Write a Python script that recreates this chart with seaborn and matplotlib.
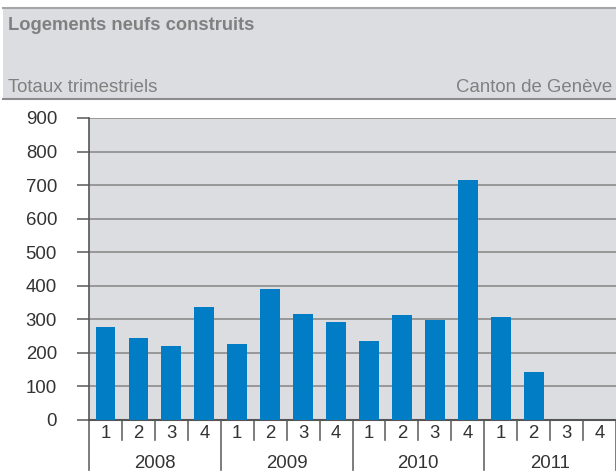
import pandas as pd
import seaborn as sns
import matplotlib.pyplot as plt
from matplotlib.patches import Rectangle
from matplotlib.lines import Line2D

# données (logements neufs construits, totaux trimestriels)
years = ["2008", "2009", "2010", "2011"]
quarters = ["1", "2", "3", "4"]
values = [277, 244, 220, 337,
          226, 390, 316, 292,
          235, 313, 298, 715,
          307, 143, None, None]

labels = [f"{y}-{q}" for y in years for q in quarters]
df = pd.DataFrame({"periode": labels, "logements": values})

plt.rcParams["font.family"] = ["Liberation Sans", "DejaVu Sans"]

fig = plt.figure(figsize=(6.16, 4.76), dpi=100)
ax = fig.add_axes([89 / 616, 56 / 476, 1 - 89 / 616, 302 / 476])

#bandeau du titre
fig.patches.append(Rectangle((0.005, 377 / 476), 0.995, 91 / 476,
                             transform=fig.transFigure, facecolor="#dcdde0",
                             edgecolor="none", zorder=0))
for yy, col in [(468 / 476, "#a6a6a6"), (377 / 476, "#8c8c8c")]:
    fig.lines.append(Line2D([0.005, 1], [yy, yy], transform=fig.transFigure,
                            color=col, lw=1.5))
fig.text(8 / 616, 1 - 25 / 476, "Logements neufs construits", fontsize=13.2,
         fontweight="bold", color="#808080", va="center", ha="left")
fig.text(8 / 616, 1 - 88 / 476, "Totaux trimestriels", fontsize=13.4,
         color="#808080", va="center", ha="left")
fig.text(612 / 616, 1 - 88 / 476, "Canton de Genève", fontsize=13.4,
         color="#808080", va="center", ha="right")

#barres
sns.barplot(data=df, x="periode", y="logements", order=labels,
            color="#007dc5", saturation=1, width=0.6, ax=ax, zorder=3)

ax.set_facecolor("#dcdde0")
ax.set_ylim(0, 900)
ax.set_xlim(-0.5, len(labels) - 0.5)
ax.set_yticks(range(0, 901, 100))
ax.yaxis.grid(True, color="#8c8c8c", lw=1.2, zorder=1)
ax.set_axisbelow(True)
ax.tick_params(axis="y", length=8.6, width=1.2, color="#666666",
               labelsize=13.4, labelcolor="#333333", pad=14.4)
ax.set_xticks([])
ax.set_xlabel("")
ax.set_ylabel("")
for s in ["top", "right"]:
    ax.spines[s].set_visible(False)
ax.spines["left"].set_color("#555555")
ax.spines["bottom"].set_color("#555555")
ax.spines["left"].set_linewidth(1.2)
ax.spines["bottom"].set_linewidth(1.5)

#axe x a deux niveaux
trans = ax.get_xaxis_transform()
for i in range(len(labels) + 1):
    b = i - 0.5
    depth = -50 / 302 if i % 4 == 0 else -20 / 302
    ax.plot([b, b], [0, depth], transform=trans, color="#666666",
            lw=1.2, clip_on=False)
for i, lab in enumerate(labels):
    ax.text(i, -13 / 302, lab.split("-")[1], transform=trans, ha="center",
            va="center", fontsize=13.4, color="#333333")
for j, y in enumerate(years):
    ax.text(j * 4 + 1.5, -43 / 302, y, transform=trans, ha="center",
            va="center", fontsize=13.4, color="#333333")

fig.savefig("out.png", dpi=100)
